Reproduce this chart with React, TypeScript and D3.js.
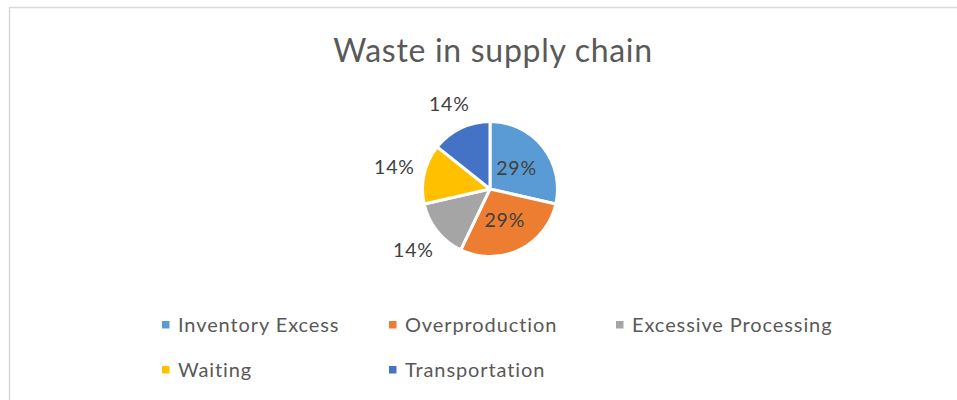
import React from "react";
import * as d3 from "d3";

const categories = ["Inventory Excess", "Overproduction", "Excessive Processing", "Waiting", "Transportation"];
const values = [2, 2, 1, 1, 1];
const colors = ["#5B9BD5", "#ED7D31", "#A5A5A5", "#FFC000", "#4472C4"];

const W = 957;
const H = 400;
const font = "Lato, 'Open Sans', sans-serif";

const App = () => {
	const cx = 490;
	const cy = 189;
	const r = 67.5;
	const total = d3.sum(values);

	const pie = d3.pie<number>().sort(null).value((d) => d);
	const arcs = pie(values);
	const arc = d3.arc<d3.PieArcDatum<number>>().innerRadius(0).outerRadius(r);

	const fmt = (v: number) => Math.round((v / total) * 100) + "%";

	// labels: big slices inside, small ones outside (like Excel best fit)
	const labels = arcs.map((a) => {
		const mid = (a.startAngle + a.endAngle) / 2;
		const dx = Math.sin(mid);
		const dy = -Math.cos(mid);
		const share = a.value / total;
		if (share > 0.2) {
			return { x: cx + dx * 34, y: cy + dy * 34, text: fmt(a.value) };
		}
		const halfW = 19;
		const halfH = 9;
		const ext = Math.abs(dx) * halfW + Math.abs(dy) * halfH;
		const d = r + 10 + ext;
		return { x: cx + dx * d, y: cy + dy * d, text: fmt(a.value) };
	});

	const legendX = d3.scaleOrdinal<number, number>().domain([0, 1, 2]).range([162, 389, 616]);
	const legendY = d3.scaleOrdinal<number, number>().domain([0, 1]).range([325, 370]);

	return (
		<svg width={W} height={H} style={{ position: "absolute", left: 0, top: 0, background: "#fff" }}>
			<rect x={9.5} y={7.5} width={W + 10} height={H + 10} fill="#fff" stroke="#D9D9D9" strokeWidth={1.5} />
			<text x={cx + 3} y={62} textAnchor="middle" fontFamily={font} fontSize={32} letterSpacing={0.7} fill="#595959">
				Waste in supply chain
			</text>
			<g transform={`translate(${cx},${cy})`}>
				{arcs.map((a, i) => (
					<path key={i} d={arc(a) || ""} fill={colors[i]} stroke="#fff" strokeWidth={3} strokeLinejoin="round" />
				))}
			</g>
			{labels.map((l, i) => (
				<text key={i} x={l.x} y={l.y} dy="0.36em" textAnchor="middle" fontFamily={font} fontSize={19.5} letterSpacing={0.8} fill="#404040">
					{l.text}
				</text>
			))}
			{categories.map((c, i) => {
				const col = i % 3;
				const row = Math.floor(i / 3);
				const x = legendX(col);
				const y = legendY(row);
				return (
					<g key={c}>
						<rect x={x} y={y - 4} width={7.5} height={7.5} fill={colors[i]} />
						<text x={x + 16} y={y + 7} fontFamily={font} fontSize={20} letterSpacing={0.9} fill="#595959">
							{c}
						</text>
					</g>
				);
			})}
		</svg>
	);
};

export default App;
